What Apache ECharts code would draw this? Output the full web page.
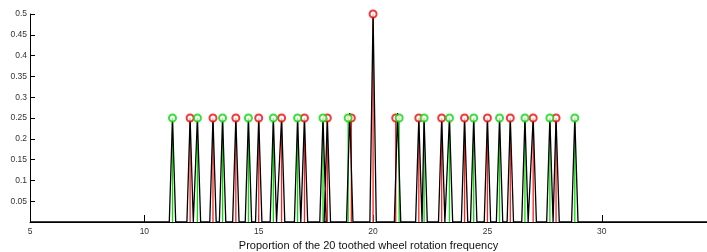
<!DOCTYPE html>
<html style="height: 100%">

<head>
    <meta charset="utf-8">
</head>

<body style="height: 100%; margin: 0; background: #fff">
    <div id="container" style="width: 707px; height: 252px"></div>
    <script type="text/javascript" src="https://cdn.jsdelivr.net/npm/echarts@6/dist/echarts.min.js"></script>
    <script type="text/javascript">
        // peaks (x = proportion of the 20 toothed wheel rotation frequency)
        var redX = [12, 13, 14, 15, 16, 17, 18, 19.05, 20, 20.99, 22, 23, 24, 25, 26, 27, 28];
        var redY = [0.25, 0.25, 0.25, 0.25, 0.25, 0.25, 0.25, 0.25, 0.5, 0.25, 0.25, 0.25, 0.25, 0.25, 0.25, 0.25, 0.25];
        var greenX = [11.23, 12.32, 13.42, 14.55, 15.64, 16.7, 17.81, 18.91, 21.14, 22.23, 23.34, 24.4, 25.53, 26.64, 27.73, 28.82];
        var greenY = [0.25, 0.25, 0.25, 0.25, 0.25, 0.25, 0.25, 0.25, 0.25, 0.25, 0.25, 0.25, 0.25, 0.25, 0.25, 0.25];
        // black spectrum peaks (the 19 / 21 pairs merge into one slightly taller peak)
        var specX = [11.23, 12, 12.32, 13, 13.42, 14, 14.55, 15, 15.64, 16, 16.7, 17, 17.81, 18, 18.98,
            20, 21.07, 22, 22.23, 23, 23.34, 24, 24.4, 25, 25.53, 26, 26.64, 27, 27.73, 28, 28.82];
        var specY = [0.25, 0.25, 0.25, 0.25, 0.25, 0.25, 0.25, 0.25, 0.25, 0.25, 0.25, 0.25, 0.25, 0.25, 0.262,
            0.5, 0.262, 0.25, 0.25, 0.25, 0.25, 0.25, 0.25, 0.25, 0.25, 0.25, 0.25, 0.25, 0.25, 0.25, 0.25];
        var xTicks = [5, 10, 15, 20, 25, 30];
        var yTicks = [0.05, 0.1, 0.15, 0.2, 0.25, 0.3, 0.35, 0.4, 0.45, 0.5];

        var xMin = 5, xMax = 34.6;
        var dom = document.getElementById("container");
        var myChart = echarts.init(dom);

        var halfWidth = 0.14;
        var spectrum = [[xMin, 0]];
        for (var i = 0; i < specX.length; i++) {
            spectrum.push([specX[i] - halfWidth, 0], [specX[i], specY[i]], [specX[i] + halfWidth, 0]);
        }
        spectrum.push([xMax, 0]);

        function pairs(xs, ys) {
            return xs.map(function (x, i) { return [x, ys[i]]; });
        }

        function stem(color) {
            return function (params, api) {
                var top = api.coord([api.value(0), api.value(1)]);
                var base = api.coord([api.value(0), 0]);
                return {
                    type: 'line',
                    shape: { x1: top[0], y1: top[1], x2: base[0], y2: base[1] },
                    style: { stroke: color, lineWidth: 1.3 }
                };
            };
        }

        var labelStyle = { color: '#333', fontSize: 8.5, fontFamily: 'Liberation Sans' };

        var option = {
            animation: false,
            backgroundColor: '#fff',
            grid: { left: 30, right: 0, top: 14, bottom: 30, containLabel: false, outerBoundsMode: 'none' },
            xAxis: {
                type: 'value', min: xMin, max: xMax, interval: 5,
                name: 'Proportion of the 20 toothed wheel rotation frequency',
                nameLocation: 'middle', nameGap: 10,
                nameTextStyle: { color: '#111', fontSize: 11, fontFamily: 'Liberation Sans' },
                axisLine: { lineStyle: { color: '#000', width: 1 } },
                axisTick: { inside: true, length: 7, lineStyle: { color: '#000' } },
                axisLabel: Object.assign({ margin: 5, showMaxLabel: false,
                    formatter: function (v) { return xTicks.indexOf(v) >= 0 ? v : ''; } }, labelStyle),
                splitLine: { show: false }
            },
            yAxis: {
                type: 'value', min: 0, max: 0.5, interval: 0.05,
                axisLine: { show: true, lineStyle: { color: '#000', width: 1 } },
                axisTick: { inside: true, length: 5, lineStyle: { color: '#000' } },
                axisLabel: Object.assign({ margin: 3,
                    formatter: function (v) {
                        var r = Math.round(v * 100) / 100;
                        return yTicks.indexOf(r) >= 0 ? String(r) : '';
                    } }, labelStyle),
                splitLine: { show: false }
            },
            series: [
                {
                    type: 'custom', name: 'red stems', renderItem: stem('#ff2020'),
                    data: pairs(redX, redY), encode: { x: 0, y: 1 }, z: 1
                },
                {
                    type: 'custom', name: 'green stems', renderItem: stem('#00e000'),
                    data: pairs(greenX, greenY), encode: { x: 0, y: 1 }, z: 1
                },
                {
                    type: 'line', name: 'spectrum', data: spectrum, showSymbol: false,
                    lineStyle: { color: '#000', width: 1.3 }, z: 2
                },
                {
                    type: 'scatter', name: 'red', data: pairs(redX, redY),
                    symbol: 'emptyCircle', symbolSize: 7,
                    itemStyle: { color: '#ff0000', borderWidth: 1 }, z: 3
                },
                {
                    type: 'scatter', name: 'green', data: pairs(greenX, greenY),
                    symbol: 'emptyCircle', symbolSize: 7,
                    itemStyle: { color: '#00dd00', borderWidth: 1 }, z: 3
                }
            ]
        };

        myChart.setOption(option, true);
    </script>
</body>

</html>
